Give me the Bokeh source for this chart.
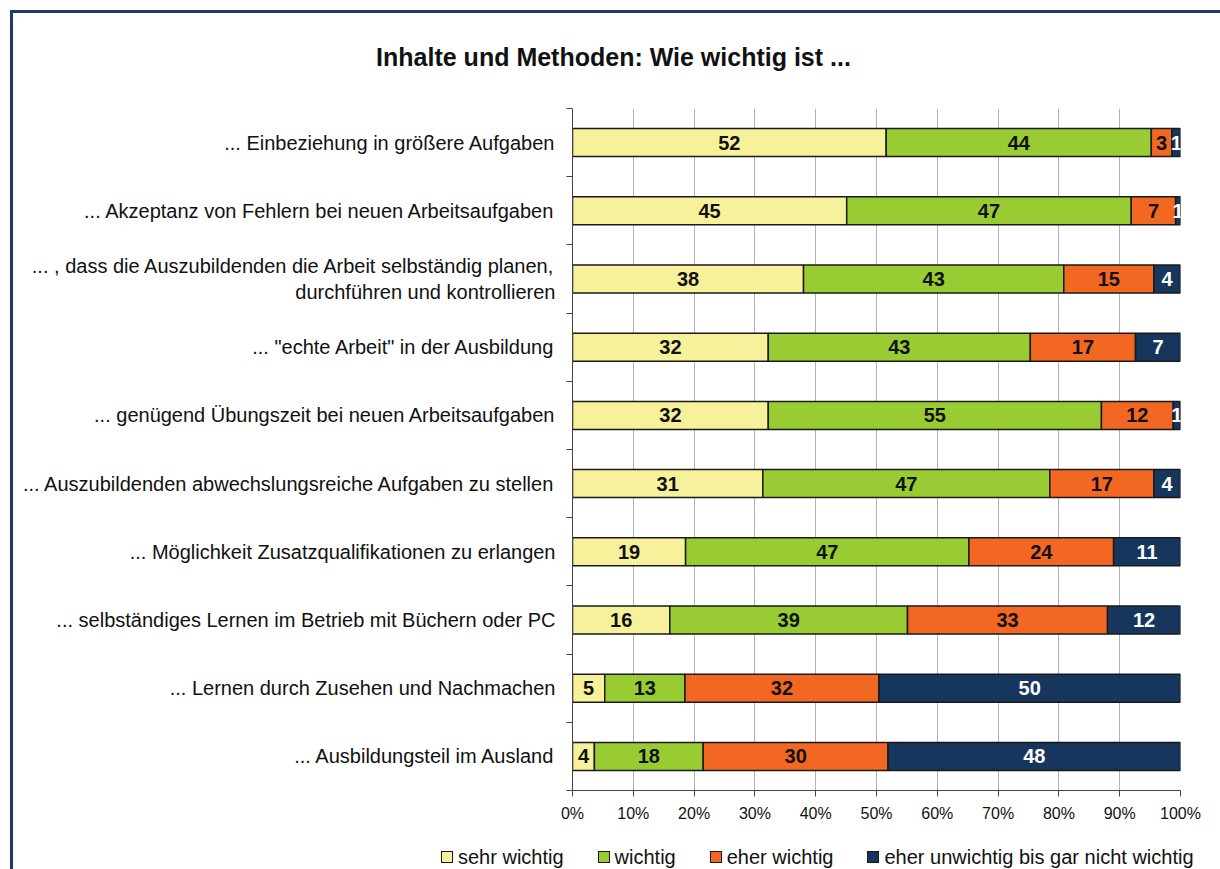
from bokeh.plotting import figure
from bokeh.layouts import column
from bokeh.models import Range1d, FixedTicker, ColumnDataSource, Div
from bokeh.core.properties import value
from bokeh.embed import file_html
from bokeh.resources import INLINE

title = "Inhalte und Methoden: Wie wichtig ist ..."
categories = [
    "... Einbeziehung in größere Aufgaben",
    "... Akzeptanz von Fehlern bei neuen Arbeitsaufgaben",
    "... , dass die Auszubildenden die Arbeit selbständig planen,\ndurchführen und kontrollieren",
    "... \"echte Arbeit\" in der Ausbildung",
    "... genügend Übungszeit bei neuen Arbeitsaufgaben",
    "... Auszubildenden abwechslungsreiche Aufgaben zu stellen",
    "... Möglichkeit Zusatzqualifikationen zu erlangen",
    "... selbständiges Lernen im Betrieb mit Büchern oder PC",
    "... Lernen durch Zusehen und Nachmachen",
    "... Ausbildungsteil im Ausland",
]
series_names = ["sehr wichtig", "wichtig", "eher wichtig", "eher unwichtig bis gar nicht wichtig"]
sehr_wichtig = [51.6, 45.1, 38.0, 32.2, 32.2, 31.3, 18.6, 16.0, 5.3, 3.6]
wichtig = [43.6, 46.8, 42.8, 43.1, 54.8, 47.2, 46.6, 39.1, 13.2, 17.9]
eher_wichtig = [3.4, 7.3, 14.8, 17.3, 11.8, 17.1, 23.8, 32.9, 31.9, 30.4]
eher_unwichtig = [1.4, 0.8, 4.4, 7.4, 1.2, 4.4, 11.0, 12.0, 49.6, 48.1]
x_ticks = [0, 10, 20, 30, 40, 50, 60, 70, 80, 90, 100]
x_tick_labels = ["0%", "10%", "20%", "30%", "40%", "50%", "60%", "70%", "80%", "90%", "100%"]

colors = ["#F6F19A", "#99CC33", "#F26722", "#17365D"]
text_colors = ["#111111", "#111111", "#111111", "#FFFFFF"]
FONT = "Liberation Sans"
BAR_LINE = "#1A1A1A"

n = len(categories)
ys = [n - 0.5 - i for i in range(n)]
series = [sehr_wichtig, wichtig, eher_wichtig, eher_unwichtig]
keys = ["s0", "s1", "s2", "s3"]

data = {"y": ys}
for k, s in zip(keys, series):
    data[k] = s
source = ColumnDataSource(data)

W = 1207
p = figure(width=W, height=737, output_backend="svg", toolbar_location=None,
           x_range=Range1d(0, 100), y_range=Range1d(0, n),
           min_border_left=559, min_border_right=40, min_border_top=15,
           min_border_bottom=40)
p.outline_line_color = None
p.background_fill_color = "white"
p.border_fill_color = "white"

renderers = p.hbar_stack(keys, y="y", height=0.41, color=colors, source=source,
                         line_color=BAR_LINE, line_width=1.5)

# value labels
lx, ly, lt, lc = [], [], [], []
for i in range(n):
    left = 0.0
    for j, s in enumerate(series):
        v = s[i]
        lx.append(left + v / 2)
        ly.append(ys[i])
        lt.append(str(int(round(v))))
        lc.append(text_colors[j])
        left += v
p.text(x=lx, y=ly, text=lt, text_color=lc, text_align="center", text_baseline="middle",
       text_font=value(FONT), text_font_style="bold", text_font_size="20px")

# grid / axes
p.ygrid.visible = False
p.xgrid.ticker = FixedTicker(ticks=x_ticks)
p.xgrid.grid_line_color = "#B3B3B3"
p.xgrid.grid_line_width = 1

p.xaxis.ticker = FixedTicker(ticks=x_ticks)
p.xaxis.major_label_overrides = {t: l for t, l in zip(x_ticks, x_tick_labels)}
p.xaxis.major_label_text_font = FONT
p.xaxis.major_label_text_font_size = "16px"
p.xaxis.major_label_text_color = "#111111"
p.xaxis.major_tick_in = 0
p.xaxis.major_tick_out = 6
p.xaxis.minor_tick_line_color = None
p.xaxis.axis_line_color = "#444444"
p.xaxis.major_tick_line_color = "#444444"
p.xaxis.major_label_standoff = 8

bounds = list(range(n + 1))
p.yaxis.ticker = FixedTicker(ticks=ys, minor_ticks=bounds)
p.yaxis.major_label_overrides = {y: c for y, c in zip(ys, categories)}
p.yaxis.major_label_text_font = FONT
p.yaxis.major_label_text_font_size = "20px"
p.yaxis.major_label_text_color = "#111111"
p.yaxis.major_label_standoff = 11
p.yaxis.major_tick_in = 0
p.yaxis.major_tick_out = 0
p.yaxis.minor_tick_in = 0
p.yaxis.minor_tick_out = 6
p.yaxis.minor_tick_line_color = "#444444"
p.yaxis.axis_line_color = "#444444"

# legend (HTML strip below the chart)
items_html = []
for nm, c in zip(series_names, colors):
    items_html.append(
        '<span style="display:inline-flex;align-items:center;margin-right:34px;">'
        '<span style="display:inline-block;width:12px;height:12px;box-sizing:border-box;'
        f'border:1px solid {BAR_LINE};background:{c};margin-right:5px;"></span>'
        f'<span>{nm}</span></span>'
    )
leg = Div(text='<div style="display:flex;align-items:center;white-space:nowrap;">'
               + "".join(items_html) + "</div>",
          width=W, height=39, margin=0,
          styles={"font-family": FONT, "font-size": "20px", "color": "#111111",
                  "line-height": "24px", "padding-left": "428px", "padding-top": "14px",
                  "box-sizing": "border-box", "overflow": "hidden"})

head = Div(text=title, width=W, height=80, margin=0,
           styles={"font-family": FONT, "font-weight": "bold", "font-size": "25px",
                   "color": "#111111", "text-align": "center", "padding-top": "27px",
                   "padding-right": "6px", "box-sizing": "border-box"})

layout = column(head, p, leg, spacing=0,
                styles={"margin-left": "10px", "margin-top": "10px",
                        "border-left": "3px solid #1F3A68", "border-top": "3px solid #1F3A68"})

open("out.html", "w").write(file_html(layout, INLINE))
